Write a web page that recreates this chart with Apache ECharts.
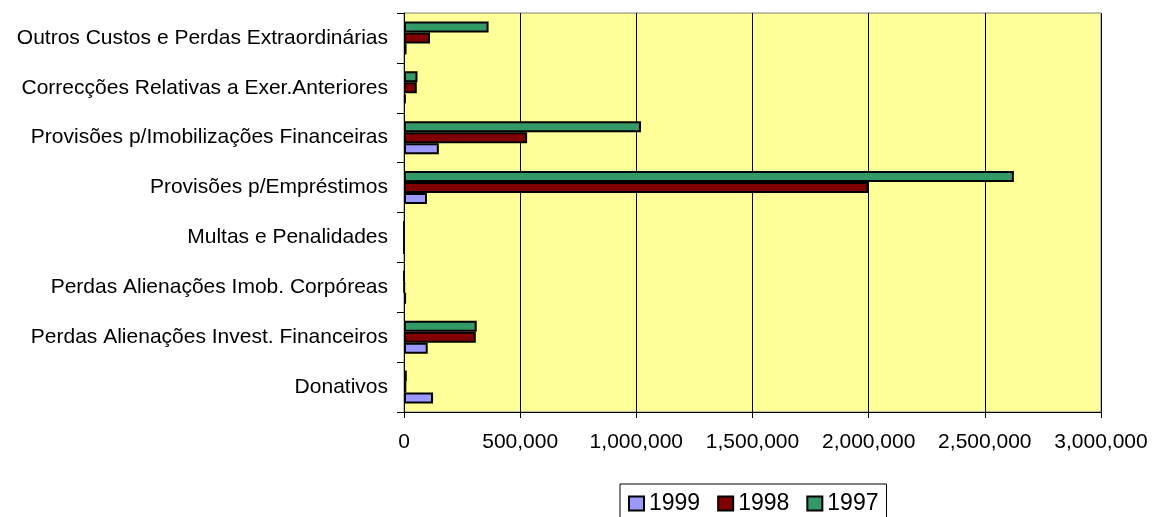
<!DOCTYPE html>
<html>
<head>
<meta charset="utf-8">
<script src="https://cdn.jsdelivr.net/npm/echarts@6/dist/echarts.min.js"></script>
<style>
  html, body { margin: 0; padding: 0; background: #fff; }
  #graph { width: 1152px; height: 517px; }
</style>
</head>
<body>
<div id="graph"></div>
<script>
// categories bottom -> top
const categories = [
  'Donativos',
  'Perdas Alienações Invest. Financeiros',
  'Perdas Alienações Imob. Corpóreas',
  'Multas e Penalidades',
  'Provisões p/Empréstimos',
  'Provisões p/Imobilizações Financeiras',
  'Correcções Relativas a Exer.Anteriores',
  'Outros Custos e Perdas Extraordinárias'
];
const years = ['1999', '1998', '1997'];
const values1999 = [125000, 102000, 9000, 0, 99000, 150000, 8000, 11000];
const values1998 = [10000, 309000, 1500, 0, 2000000, 530000, 55000, 112000];
const values1997 = [12000, 313000, 0, 0, 2625000, 1020000, 58000, 364000];
const colors = {'1999': '#9999FF', '1998': '#800000', '1997': '#339966'};

const font = 'Liberation Sans, Arial, sans-serif';
let myChart = echarts.init(document.getElementById('graph'));

const seriesData = {'1999': values1999, '1998': values1998, '1997': values1997};
// in a horizontal bar group the first series is drawn on top -> 1997 first
const seriesOrder = ['1997', '1998', '1999'];
myChart.setOption({
  backgroundColor: '#fff',
  animation: false,
  grid: {
    left: 404,
    right: 51,
    top: 13,
    bottom: 105,
    show: true,
    backgroundColor: '#FFFF99',
    borderColor: '#808080',
    borderWidth: 1
  },
  legend: {
    data: years,
    left: 620,
    top: 484,
    padding: [8, 8, 10, 8],
    itemGap: 17,
    itemWidth: 15,
    itemHeight: 14,
    borderColor: '#000',
    borderWidth: 1,
    icon: 'rect',
    textStyle: {
      fontFamily: font,
      fontSize: 23,
      color: '#000'
    }
  },
  xAxis: {
    type: 'value',
    min: 0,
    max: 3000000,
    interval: 500000,
    axisLine: {show: true, lineStyle: {color: '#000', width: 1}},
    axisTick: {show: true, length: 6, lineStyle: {color: '#000'}},
    splitLine: {show: true, lineStyle: {color: '#000', width: 1}},
    axisLabel: {
      margin: 20,
      fontFamily: font,
      fontSize: 21,
      color: '#000',
      formatter: function (v) {
        return v.toLocaleString('en-US');
      }
    }
  },
  yAxis: {
    type: 'category',
    data: categories,
    axisLine: {show: true, lineStyle: {color: '#000', width: 1}},
    axisTick: {show: true, length: 7, lineStyle: {color: '#000'}},
    splitLine: {show: false},
    axisLabel: {
      margin: 16,
      fontFamily: font,
      fontSize: 21,
      color: '#000'
    }
  },
  series: seriesOrder.map(function (y) {
    return {
      name: y,
      type: 'bar',
      barWidth: 11,
      barGap: '0%',
      itemStyle: {
        color: colors[y],
        borderColor: '#000',
        borderWidth: 2
      },
      data: seriesData[y]
    };
  })
});
</script>
</body>
</html>
